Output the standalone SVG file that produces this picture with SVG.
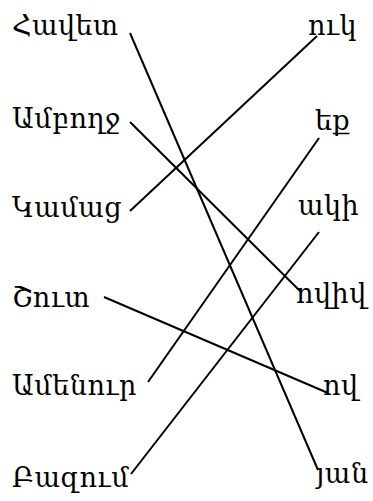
<svg xmlns="http://www.w3.org/2000/svg" width="373" height="501" viewBox="0 0 373 501">
<style>
text{font-family:"DejaVu Serif","DejaVu Sans",serif;font-size:27px;letter-spacing:0.5px;fill:#000}
.c line{stroke:#000;stroke-width:2}
</style>
<rect width="373" height="501" fill="#fff"/>
<g id="connectors" class="c">
<line x1="130" y1="33" x2="318" y2="470"/>
<line x1="130" y1="122" x2="301" y2="292"/>
<line x1="130" y1="211" x2="317" y2="36"/>
<line x1="104" y1="297" x2="328" y2="393"/>
<line x1="148" y1="382" x2="319" y2="138"/>
<line x1="131" y1="474" x2="319" y2="232"/>
</g>
<g id="L1"><text x="12" y="35">Հավետ</text></g>
<g id="L2"><text x="12" y="128">Ամբողջ</text></g>
<g id="L3"><text x="12" y="217">Կամաց</text></g>
<g id="L4"><text x="12" y="307">Շուտ</text></g>
<g id="L5"><text x="12" y="395">Ամենուր</text></g>
<g id="L6"><text x="12" y="487">Բազում</text></g>
<g id="R1"><text x="308" y="35">ուկ</text></g>
<g id="R2"><text x="315" y="130">եք</text></g>
<g id="R3"><text x="298" y="215">ակի</text></g>
<g id="R4"><text x="296" y="303">ովիվ</text></g>
<g id="R5"><text x="323" y="395">ով</text></g>
<g id="R6"><text x="316" y="483">յան</text></g>
</svg>
